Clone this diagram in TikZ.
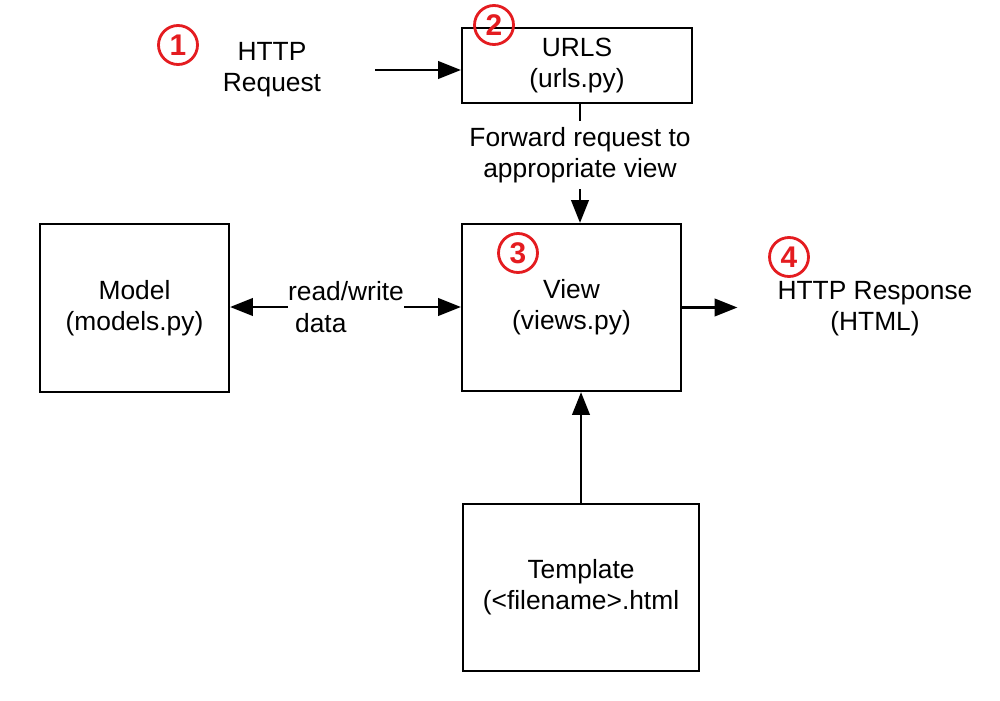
\documentclass[tikz,border=0pt]{standalone}
\usepackage{fontspec}
\setmainfont{Liberation Sans}
\usetikzlibrary{arrows.meta, positioning}
\definecolor{NoteColor}{RGB}{228,28,32}
\tikzstyle{arrow} = [line width=1.3pt, -{Triangle[length=13pt, width=10pt]}]
\tikzstyle{link} = [line width=1.3pt]
\tikzstyle{box} = [rectangle, draw, line width=1.3pt, align=center]
\tikzstyle{note} = [circle, draw=NoteColor, line width=1.6pt, text=NoteColor, inner sep=0pt, minimum size=0.78cm, font=\bfseries\fontsize{17}{17}\selectfont]

\begin{document}
\begin{tikzpicture}[x=0.02cm, y=-0.02cm, font=\fontsize{15}{17.8}\selectfont]
      \useasboundingbox (0,0) rectangle (1000,700);

      % Main boxes
      \node[box, minimum width=4.6cm, minimum height=1.5cm] (urls) at (577,65.5) {
        URLS \\
        (urls.py)
      };

      \node[box, minimum width=3.78cm, minimum height=3.36cm] (model) at (134.5,308) {
        Model \\
        (models.py)
      };

      \node[box, minimum width=4.38cm, minimum height=3.34cm] (view) at (571.5,307.5) {
        View \\
        (views.py)
      };

      \node[box, minimum width=4.72cm, minimum height=3.34cm] (tmpl) at (581,587.5) {
        Template \\
        (<filename>.html
      };

      % Free texts
      \node[align=center] (req) at (272,70) {
        HTTP \\
        Request
      };

      \node[align=center] (fwd) at (580,155) {
        Forward request to \\
        appropriate view
      };

      \node[align=left, inner sep=0pt] (rw) at (346,307) {
        read/write \\
        \hspace{0.14cm}data
      };

      \node[align=center] (resp) at (875,309) {
        HTTP Response \\
        (HTML)
      };

      % Connections
      \coordinate (reqout) at (375,70);
      \draw[arrow] (reqout) -- (reqout -| urls.west);
      \draw[link] (fwd.north) -- (fwd.north |- urls.south);
      \draw[arrow] (fwd.south) -- (fwd.south |- view.north);
      \draw[arrow] (rw.west) -- (rw.west -| model.east);
      \draw[arrow] (rw.east) -- (rw.east -| view.west);
      \draw[arrow, shorten >=0.68cm] (view.east) -- (view.east -| resp.west);
      \draw[arrow] (tmpl.north) -- (tmpl.north |- view.south);

      % Step numbers
      \node[note] (n1) at (178,45) {1};
      \node[note] (n2) at (494,25) {2};
      \node[note] (n3) at (518,253) {3};
      \node[note] (n4) at (789,257) {4};
    \end{tikzpicture}
\end{document}
